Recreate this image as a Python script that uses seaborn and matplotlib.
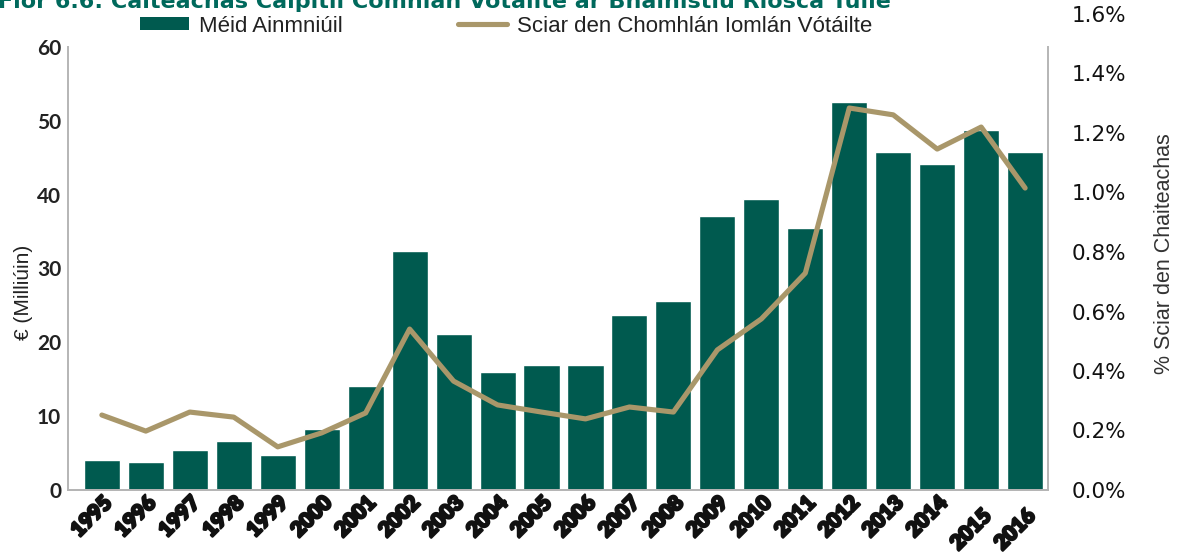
import numpy as np
import pandas as pd
import seaborn as sns
import matplotlib.pyplot as plt
import matplotlib.transforms as mtransforms
import matplotlib.patheffects as pe
from matplotlib.patches import Patch
from matplotlib.lines import Line2D
from matplotlib.ticker import FuncFormatter

years = [str(y) for y in range(1995, 2017)]
amount = [4.1, 3.8, 5.4, 6.6, 4.7, 8.3, 14.1, 32.4, 21.1, 16.0, 16.9,
          16.9, 23.7, 25.6, 37.1, 39.4, 35.5, 52.6, 45.8, 44.2, 48.8, 45.8]
share = [0.252, 0.198, 0.262, 0.245, 0.145, 0.192, 0.259, 0.541, 0.366, 0.286, 0.262,
         0.239, 0.279, 0.262, 0.471, 0.575, 0.729, 1.284, 1.261, 1.146, 1.220, 1.015]

title = "Fíor 6.6: Caiteachas Caipitil Comhlán Vótáilte ar Bhainistiú Riosca Tuile"
bar_label = "Méid Ainmniúil"
line_label = "Sciar den Chomhlán Iomlán Vótáilte"

TEAL = "#005a4f"
TAN = "#a9976a"
GREY = "#b5b5b5"

sns.set_style("white")
plt.rcParams['font.family'] = ['Liberation Sans', 'DejaVu Sans']

df = pd.DataFrame({"year": years, "amount": amount, "share": share})

fig = plt.figure(figsize=(11.8, 5.52), dpi=100)
W, H = 1180, 552
ax = fig.add_axes([68 / W, 62 / H, 980 / W, 482 / H])

sns.barplot(data=df, x="year", y="amount", color=TEAL, saturation=1, width=0.82, ax=ax)

ax2 = ax.twinx()
sns.lineplot(x=np.arange(len(years)), y=df["share"], ax=ax2, color=TAN, linewidth=3.7)

ax.set_xlim(-0.77, 21.52)
ax.set_ylim(0, 60 * 482 / 443)
ax.set_yticks(range(0, 61, 10))
ax2.set_ylim(0, 482 / 297.5)
ax2.set_yticks(np.arange(0, 1.61, 0.2))
ax2.yaxis.set_major_formatter(FuncFormatter(lambda v, p: f"{v:.1f}%"))

for a in (ax, ax2):
    for s in a.spines.values():
        s.set_color(GREY)
        s.set_linewidth(1.4)
    a.spines['top'].set_visible(False)
ax.spines['right'].set_visible(False)
ax2.spines['left'].set_visible(False)
ax.spines['left'].set_bounds(0, 60)
ax2.spines['right'].set_bounds(0, 443 / 297.5)

ax.set_xlabel("")
ax.set_ylabel("€ (Milliúin)", fontsize=15, color="#222222")
ax2.set_ylabel("% Sciar den Chaiteachas", fontsize=15.5, color="#333333")
ax.yaxis.set_label_coords(-0.036, 0.41)
ax2.yaxis.set_label_coords(1.108, 0.49)

ax.tick_params(axis='y', length=0, pad=5, labelsize=15, labelcolor="#222222",
               labelfontfamily='Lato')
for lbl in ax.get_yticklabels():
    lbl.set_fontweight('bold')
ax2.tick_params(axis='y', length=0, pad=17, labelsize=15.5, labelcolor="#111111",
                labelfontfamily='DejaVu Sans')

ax.tick_params(axis='x', length=0, pad=2)
ax.set_xticks(range(len(years)))
ax.set_xticklabels(years, rotation=45, ha='right', va='top', rotation_mode='anchor',
                   fontsize=15, color="#111111", family=['Lato', 'DejaVu Sans'],
                   fontweight='heavy')
for i, lbl in enumerate(ax.get_xticklabels()):
    lbl.set_path_effects([pe.withStroke(linewidth=1.6, foreground="#111111")])
    if years[i] in ("2015", "2016"):
        off = mtransforms.ScaledTranslation(0, -13 / 100, fig.dpi_scale_trans)
        lbl.set_transform(lbl.get_transform() + off)

handles = [Patch(facecolor=TEAL, edgecolor='none'),
           Line2D([0], [0], color=TAN, linewidth=3.7)]
fig.legend(handles, [bar_label, line_label], loc='center left',
           bbox_to_anchor=(140 / W, 1 - 26 / H), ncol=2, frameon=False,
           fontsize=16, handlelength=2.2, handleheight=0.5, handletextpad=0.45,
           columnspacing=5.2, borderpad=0, borderaxespad=0,
           labelcolor="#222222")

fig.text(-0.002, 1 - 8 / H, title, color="#00695c", fontsize=16, fontweight='bold',
         va='baseline', ha='left', family=['DejaVu Sans'])

fig.savefig("out.png", dpi=100)
